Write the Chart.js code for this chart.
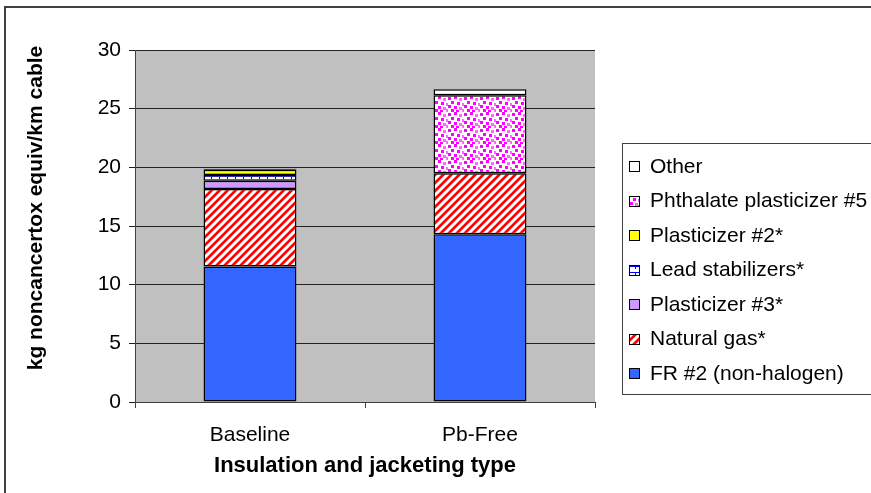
<!DOCTYPE html>
<html>
<head>
<meta charset="utf-8">
<script src="https://cdn.jsdelivr.net/npm/chart.js@4.4.1/dist/chart.umd.min.js"></script>
<style>
  html, body { margin: 0; padding: 0; background: #fff; }
  canvas { display: block; }
</style>
</head>
<body>
<canvas id="chart" width="871" height="493"></canvas>
<script>
// kg noncancertox equiv per km of cable, by contributor
const categories = ["Baseline", "Pb-Free"];
const frNonHalogen = [11.55, 14.3];
const naturalGas = [6.6, 5.2];
const plasticizer3 = [0.7, null];
const leadStabilizers = [0.5, null];
const plasticizer2 = [0.45, null];
const phthalate5 = [null, 6.65];
const other = [0.08, 0.5];
const yTicks = [0, 5, 10, 15, 20, 25, 30];

const FONT = "'Liberation Sans', Arial, sans-serif";
const Y_TITLE = "kg noncancertox equiv/km cable";

function makePattern(w, h, paint) {
  const c = document.createElement("canvas");
  c.width = w; c.height = h;
  const g = c.getContext("2d");
  g.fillStyle = "#fff";
  g.fillRect(0, 0, w, h);
  paint(g);
  return g.createPattern(c, "repeat");
}

// red "/" stripes on white
const hatchRed = makePattern(8, 8, g => {
  for (let y = 0; y < 8; y++) {
    for (let x = 0; x < 8; x++) {
      const d = (x + y) % 8;
      if (d < 3) { g.fillStyle = "#ff0000"; g.fillRect(x, y, 1, 1); }
      else if (d === 3 || d === 7) { g.fillStyle = "#ff9a9a"; g.fillRect(x, y, 1, 1); }
    }
  }
});

// scattered magenta squares on white
const dotsMagenta = makePattern(16, 16, g => {
  const spots = [[0, 1], [6, 0], [11, 2], [3, 5], [9, 6], [14, 7], [0, 9],
                 [6, 10], [11, 11], [3, 13], [8, 14], [14, 13]];
  spots.forEach(([x, y], i) => {
    g.fillStyle = i % 3 === 2 ? "#ff66ff" : "#ff00ff";
    g.fillRect(x, y, 3, 3);
  });
});

// blue horizontal rule with short ticks below it
const leadGrid = makePattern(8, 6, g => {
  g.fillStyle = "#0000ff";
  g.fillRect(0, 2, 8, 1);
  g.fillRect(3, 3, 1, 2);
});

const datasets = [
  { label: "FR #2 (non-halogen)", data: frNonHalogen, backgroundColor: "#3366ff" },
  { label: "Natural gas*", data: naturalGas, backgroundColor: hatchRed },
  { label: "Plasticizer #3*", data: plasticizer3, backgroundColor: "#cc99ff" },
  { label: "Lead stabilizers*", data: leadStabilizers, backgroundColor: leadGrid },
  { label: "Plasticizer #2*", data: plasticizer2, backgroundColor: "#ffff00" },
  { label: "Phthalate plasticizer #5", data: phthalate5, backgroundColor: dotsMagenta },
  { label: "Other", data: other, backgroundColor: "#ffffff" }
].map(d => Object.assign(d, {
  borderColor: "#000",
  borderWidth: 1.5,
  borderSkipped: false,
  barPercentage: 0.404,
  categoryPercentage: 1
}));

// white page, outer frame, grey plot area, y title and the boxed legend
const frame = {
  id: "frame",
  beforeDraw(chart) {
    const { ctx, chartArea: a, width, height } = chart;
    ctx.save();
    ctx.fillStyle = "#fff";
    ctx.fillRect(0, 0, width, height);
    ctx.strokeStyle = "#404040";
    ctx.lineWidth = 2;
    ctx.beginPath();
    ctx.moveTo(5, height + 5);
    ctx.lineTo(5, 7);
    ctx.lineTo(width + 5, 7);
    ctx.stroke();
    ctx.fillStyle = "#c0c0c0";
    ctx.fillRect(a.left, a.top, a.right - a.left, a.bottom - a.top);
    ctx.restore();
  },
  afterDraw(chart) {
    const { ctx } = chart;
    ctx.save();
    ctx.translate(36, 208);
    ctx.rotate(-Math.PI / 2);
    ctx.font = "bold 21px " + FONT;
    ctx.textAlign = "center";
    ctx.textBaseline = "middle";
    ctx.fillStyle = "#000";
    ctx.fillText(Y_TITLE, 0, 0);
    ctx.restore();

    ctx.save();
    ctx.fillStyle = "#fff";
    ctx.fillRect(622, 143, 260, 251);
    ctx.strokeStyle = "#404040";
    ctx.lineWidth = 1;
    ctx.strokeRect(622.5, 143.5, 260, 251);
    ctx.font = "21px " + FONT;
    ctx.textBaseline = "middle";
    const items = chart.data.datasets.slice().reverse();
    items.forEach((ds, i) => {
      const y = 166 + i * 34.5;
      ctx.fillStyle = ds.backgroundColor;
      ctx.fillRect(629, Math.round(y - 5), 11, 11);
      ctx.strokeStyle = "#000";
      ctx.strokeRect(629.5, Math.round(y - 5) + 0.5, 10, 10);
      ctx.fillStyle = "#000";
      ctx.fillText(ds.label, 650, y + 1);
    });
    ctx.restore();
  }
};

new Chart(document.getElementById("chart"), {
  type: "bar",
  data: { labels: categories, datasets },
  plugins: [frame],
  options: {
    responsive: false,
    animation: false,
    devicePixelRatio: 1,
    layout: { padding: { left: 20, top: 50, right: 276, bottom: 0 } },
    plugins: { legend: { display: false }, tooltip: { enabled: false } },
    scales: {
      x: {
        stacked: true,
        afterFit: s => { s.height = 91; },
        border: { color: "#404040", width: 1 },
        grid: { offset: true, drawOnChartArea: false, drawTicks: true, tickLength: 6, color: "#404040" },
        ticks: { color: "#000", font: { family: FONT, size: 21 }, padding: 15 },
        title: {
          display: true,
          text: "Insulation and jacketing type",
          color: "#000",
          font: { family: FONT, size: 22, weight: "bold" },
          padding: { top: 0, bottom: 14 }
        }
      },
      y: {
        stacked: true,
        min: 0,
        max: 30,
        afterFit: s => { s.width = 115; },
        afterBuildTicks: s => { s.ticks = yTicks.map(v => ({ value: v })); },
        border: { color: "#404040", width: 1 },
        grid: { color: "#222", tickLength: 6, drawTicks: true },
        ticks: { color: "#000", font: { family: FONT, size: 21 }, padding: 8 }
      }
    }
  }
});
</script>
</body>
</html>
